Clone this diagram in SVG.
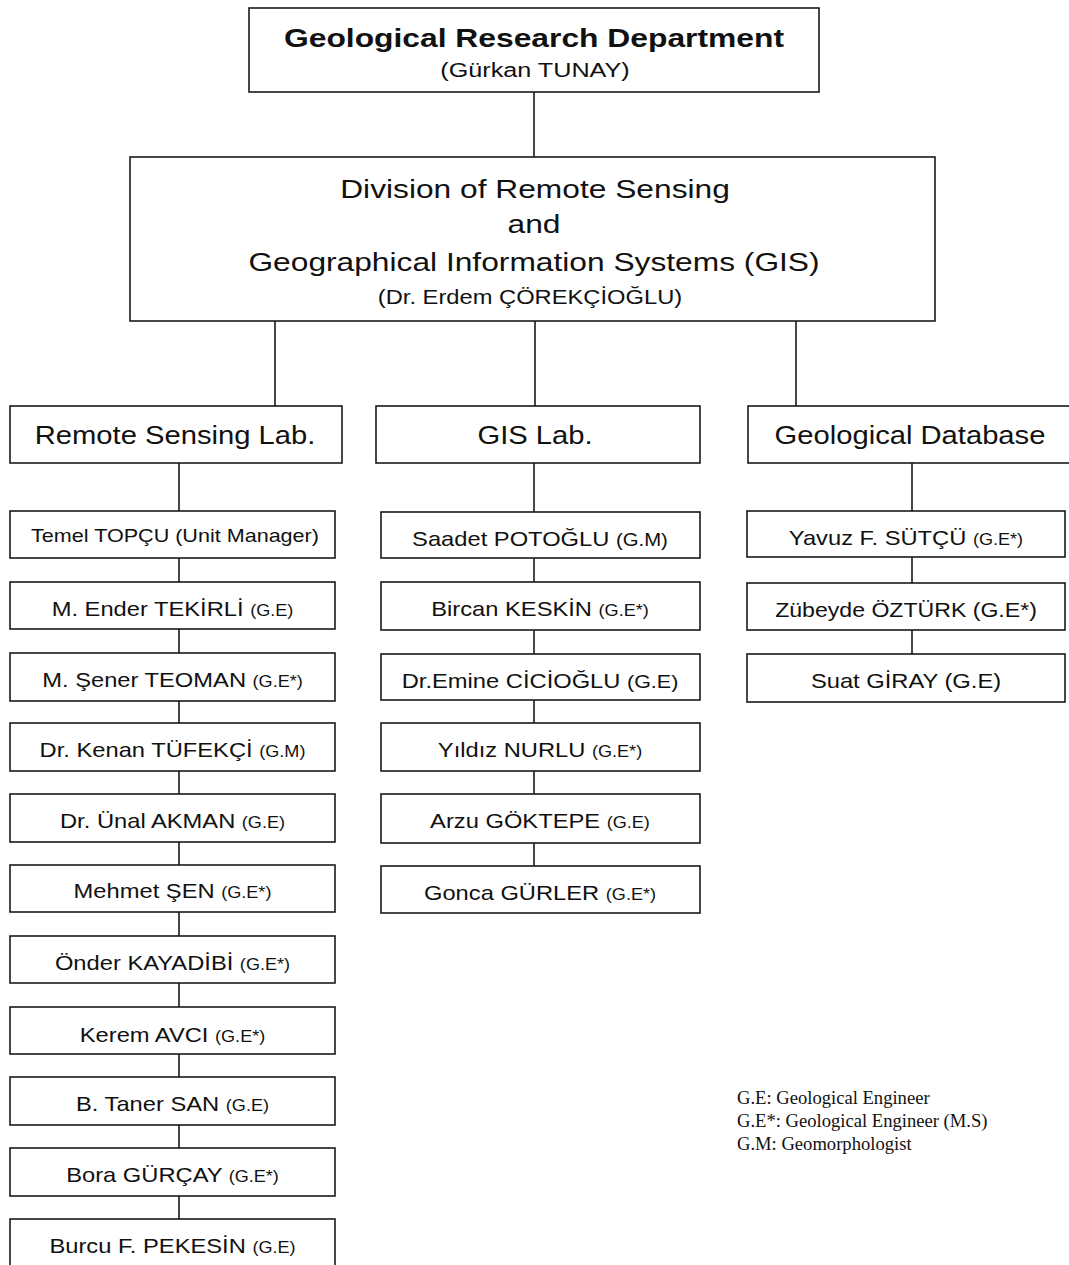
<svg xmlns="http://www.w3.org/2000/svg" width="1069" height="1265" viewBox="0 0 1069 1265">
<style>
.bx{fill:#fff;stroke:#1a1a1a;stroke-width:1.6}
.ln{stroke:#1a1a1a;stroke-width:1.6;fill:none}
text{font-family:"Liberation Sans",Arial,sans-serif;fill:#111;text-anchor:middle}
.h1{font-size:26.5px;font-weight:bold}
.sub{font-size:21px}
.dv{font-size:26px}
.lab{font-size:25.6px}
.nm{font-size:21px}
.tg{font-size:16px}
.tm{font-size:18.6px}
.lg{font-family:"Liberation Serif","Times New Roman",serif;font-size:18.6px;text-anchor:start}
</style>
<rect width="1069" height="1265" fill="#fff"/>
<g id="connectors">
<line class="ln" x1="534" y1="92" x2="534" y2="157"/>
<line class="ln" x1="275" y1="321" x2="275" y2="406"/>
<line class="ln" x1="535" y1="321" x2="535" y2="406"/>
<line class="ln" x1="796" y1="321" x2="796" y2="406"/>
<line class="ln" x1="179" y1="463" x2="179" y2="1219"/>
<line class="ln" x1="534" y1="463" x2="534" y2="866"/>
<line class="ln" x1="912" y1="463" x2="912" y2="654"/>
</g>
<g id="dept">
<rect class="bx" x="249" y="8" width="570" height="84"/>
<text class="h1" transform="translate(534 47) scale(1.2 1)">Geological Research Department</text>
<text class="sub" transform="translate(535 77) scale(1.2 1)">(Gürkan TUNAY)</text>
</g>
<g id="division">
<rect class="bx" x="130" y="157" width="805" height="164"/>
<text class="dv" transform="translate(535 198) scale(1.22 1)">Division of Remote Sensing</text>
<text class="dv" transform="translate(534 233) scale(1.22 1)">and</text>
<text class="dv" transform="translate(534 271) scale(1.22 1)">Geographical Information Systems (GIS)</text>
<text class="sub" transform="translate(530 304) scale(1.13 1)">(Dr. Erdem ÇÖREKÇİOĞLU)</text>
</g>
<g id="rs-lab">
<rect class="bx" x="10" y="406" width="332" height="57"/>
<text class="lab" transform="translate(175 444) scale(1.14 1)">Remote Sensing Lab.</text>
</g>
<g id="gis-lab">
<rect class="bx" x="376" y="406" width="324" height="57"/>
<text class="lab" transform="translate(535 444) scale(1.14 1)">GIS Lab.</text>
</g>
<g id="db-lab">
<rect class="bx" x="748" y="406" width="324" height="57"/>
<text class="lab" transform="translate(910 444) scale(1.14 1)">Geological Database</text>
</g>
<g id="rs-1"><rect class="bx" x="10" y="511" width="325" height="47"/><text class="tm" transform="translate(175 542) scale(1.16 1)">Temel TOPÇU (Unit Manager)</text></g>
<g id="rs-2"><rect class="bx" x="10" y="582" width="325" height="47"/><text class="nm" transform="translate(172.5 616) scale(1.13 1)">M. Ender TEKİRLİ <tspan class="tg">(G.E)</tspan></text></g>
<g id="rs-3"><rect class="bx" x="10" y="653" width="325" height="48"/><text class="nm" transform="translate(172.5 687) scale(1.13 1)">M. Şener TEOMAN <tspan class="tg">(G.E*)</tspan></text></g>
<g id="rs-4"><rect class="bx" x="10" y="723" width="325" height="48"/><text class="nm" transform="translate(172.5 757) scale(1.13 1)">Dr. Kenan TÜFEKÇİ <tspan class="tg">(G.M)</tspan></text></g>
<g id="rs-5"><rect class="bx" x="10" y="794" width="325" height="48"/><text class="nm" transform="translate(172.5 828) scale(1.13 1)">Dr. Ünal AKMAN <tspan class="tg">(G.E)</tspan></text></g>
<g id="rs-6"><rect class="bx" x="10" y="865" width="325" height="47"/><text class="nm" transform="translate(172.5 898) scale(1.13 1)">Mehmet ŞEN <tspan class="tg">(G.E*)</tspan></text></g>
<g id="rs-7"><rect class="bx" x="10" y="936" width="325" height="47"/><text class="nm" transform="translate(172.5 970) scale(1.13 1)">Önder KAYADİBİ <tspan class="tg">(G.E*)</tspan></text></g>
<g id="rs-8"><rect class="bx" x="10" y="1007" width="325" height="47"/><text class="nm" transform="translate(172.5 1042) scale(1.13 1)">Kerem AVCI <tspan class="tg">(G.E*)</tspan></text></g>
<g id="rs-9"><rect class="bx" x="10" y="1077" width="325" height="48"/><text class="nm" transform="translate(172.5 1111) scale(1.13 1)">B. Taner SAN <tspan class="tg">(G.E)</tspan></text></g>
<g id="rs-10"><rect class="bx" x="10" y="1148" width="325" height="48"/><text class="nm" transform="translate(172.5 1182) scale(1.13 1)">Bora GÜRÇAY <tspan class="tg">(G.E*)</tspan></text></g>
<g id="rs-11"><rect class="bx" x="10" y="1219" width="325" height="52"/><text class="nm" transform="translate(172.5 1253) scale(1.13 1)">Burcu F. PEKESİN <tspan class="tg">(G.E)</tspan></text></g>
<g id="gis-1"><rect class="bx" x="381" y="512" width="319" height="46"/><text class="nm" transform="translate(540 546) scale(1.13 1)">Saadet POTOĞLU <tspan font-size="18">(G.M)</tspan></text></g>
<g id="gis-2"><rect class="bx" x="381" y="582" width="319" height="48"/><text class="nm" transform="translate(540 616) scale(1.13 1)">Bircan KESKİN <tspan class="tg">(G.E*)</tspan></text></g>
<g id="gis-3"><rect class="bx" x="381" y="654" width="319" height="46"/><text class="nm" transform="translate(540 688) scale(1.13 1)">Dr.Emine CİCİOĞLU <tspan font-size="19">(G.E)</tspan></text></g>
<g id="gis-4"><rect class="bx" x="381" y="723" width="319" height="48"/><text class="nm" transform="translate(540 757) scale(1.13 1)">Yıldız NURLU <tspan class="tg">(G.E*)</tspan></text></g>
<g id="gis-5"><rect class="bx" x="381" y="794" width="319" height="49"/><text class="nm" transform="translate(540 828) scale(1.13 1)">Arzu GÖKTEPE <tspan class="tg">(G.E)</tspan></text></g>
<g id="gis-6"><rect class="bx" x="381" y="866" width="319" height="47"/><text class="nm" transform="translate(540 900) scale(1.13 1)">Gonca GÜRLER <tspan class="tg">(G.E*)</tspan></text></g>
<g id="db-1"><rect class="bx" x="747" y="511" width="318" height="46"/><text class="nm" transform="translate(906 545) scale(1.13 1)">Yavuz F. SÜTÇÜ <tspan class="tg">(G.E*)</tspan></text></g>
<g id="db-2"><rect class="bx" x="747" y="583" width="318" height="47"/><text class="nm" transform="translate(906 617) scale(1.1 1)">Zübeyde ÖZTÜRK (G.E*)</text></g>
<g id="db-3"><rect class="bx" x="747" y="654" width="318" height="48"/><text class="nm" transform="translate(906 688) scale(1.13 1)">Suat GİRAY (G.E)</text></g>
<g id="legend">
<text class="lg" x="737" y="1104">G.E: Geological Engineer</text>
<text class="lg" x="737" y="1127">G.E*: Geological Engineer (M.S)</text>
<text class="lg" x="737" y="1150">G.M: Geomorphologist</text>
</g>
</svg>
